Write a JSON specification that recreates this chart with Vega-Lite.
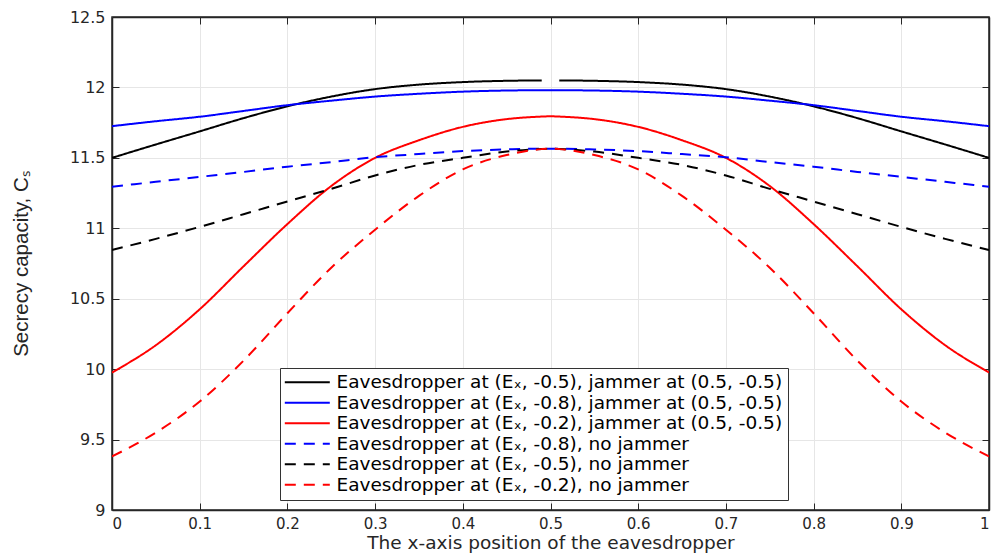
{
  "$schema": "https://vega.github.io/schema/vega-lite/v6.json",
  "autosize": "none",
  "width": 877,
  "height": 493,
  "padding": {"left": 112, "top": 17, "right": 2, "bottom": 45},
  "background": "white",
  "data": {
    "values": [
      {"x": 0.00, "s1": 11.500, "s2": 11.725, "s3": 9.976, "s4": 11.295, "s5": 10.846, "s6": 9.380},
      {"x": 0.05, "s1": 11.595, "s2": 11.760, "s3": 10.170, "s4": 11.330, "s5": 10.925, "s6": 9.550},
      {"x": 0.10, "s1": 11.688, "s2": 11.792, "s3": 10.425, "s4": 11.365, "s5": 11.010, "s6": 9.770},
      {"x": 0.15, "s1": 11.782, "s2": 11.833, "s3": 10.730, "s4": 11.400, "s5": 11.100, "s6": 10.060},
      {"x": 0.20, "s1": 11.866, "s2": 11.874, "s3": 11.030, "s4": 11.437, "s5": 11.190, "s6": 10.397},
      {"x": 0.25, "s1": 11.935, "s2": 11.906, "s3": 11.300, "s4": 11.470, "s5": 11.280, "s6": 10.720},
      {"x": 0.30, "s1": 11.988, "s2": 11.935, "s3": 11.500, "s4": 11.505, "s5": 11.375, "s6": 10.990},
      {"x": 0.35, "s1": 12.020, "s2": 11.955, "s3": 11.625, "s4": 11.527, "s5": 11.450, "s6": 11.230},
      {"x": 0.40, "s1": 12.038, "s2": 11.970, "s3": 11.720, "s4": 11.548, "s5": 11.500, "s6": 11.418},
      {"x": 0.45, "s1": 12.047, "s2": 11.978, "s3": 11.775, "s4": 11.560, "s5": 11.545, "s6": 11.520},
      {"x": 0.49, "s1": 12.050, "s2": 11.980, "s3": 11.793, "s4": 11.565, "s5": 11.563, "s6": 11.562},
      {"x": 0.50, "s1": null,   "s2": 11.980, "s3": 11.795, "s4": 11.565, "s5": 11.565, "s6": 11.565},
      {"x": 0.51, "s1": 12.050, "s2": 11.980, "s3": 11.793, "s4": 11.565, "s5": 11.563, "s6": 11.562},
      {"x": 0.55, "s1": 12.047, "s2": 11.978, "s3": 11.775, "s4": 11.560, "s5": 11.545, "s6": 11.520},
      {"x": 0.60, "s1": 12.038, "s2": 11.970, "s3": 11.720, "s4": 11.548, "s5": 11.500, "s6": 11.418},
      {"x": 0.65, "s1": 12.020, "s2": 11.955, "s3": 11.625, "s4": 11.527, "s5": 11.450, "s6": 11.230},
      {"x": 0.70, "s1": 11.988, "s2": 11.935, "s3": 11.500, "s4": 11.505, "s5": 11.375, "s6": 10.990},
      {"x": 0.75, "s1": 11.935, "s2": 11.906, "s3": 11.300, "s4": 11.470, "s5": 11.280, "s6": 10.720},
      {"x": 0.80, "s1": 11.866, "s2": 11.874, "s3": 11.030, "s4": 11.437, "s5": 11.190, "s6": 10.397},
      {"x": 0.85, "s1": 11.782, "s2": 11.833, "s3": 10.730, "s4": 11.400, "s5": 11.100, "s6": 10.060},
      {"x": 0.90, "s1": 11.688, "s2": 11.792, "s3": 10.425, "s4": 11.365, "s5": 11.010, "s6": 9.770},
      {"x": 0.95, "s1": 11.595, "s2": 11.760, "s3": 10.170, "s4": 11.330, "s5": 10.925, "s6": 9.550},
      {"x": 1.00, "s1": 11.500, "s2": 11.725, "s3": 9.976, "s4": 11.295, "s5": 10.846, "s6": 9.380}
    ]
  },
  "transform": [
    {"fold": ["s1", "s2", "s3", "s4", "s5", "s6"], "as": ["series", "cap"]}
  ],
  "layer": [
    {
      "mark": {
        "type": "line",
        "strokeWidth": 2,
        "interpolate": "monotone",
        "invalid": "break-paths-show-domains",
        "clip": true
      },
      "encoding": {
        "x": {
          "field": "x",
          "type": "quantitative",
          "scale": {"domain": [0, 1], "nice": false, "zero": false},
          "axis": {
            "orient": "bottom",
            "title": "The x-axis position of the eavesdropper",
            "values": [0, 0.1, 0.2, 0.3, 0.4, 0.5, 0.6, 0.7, 0.8, 0.9, 1],
            "format": ".1~f",
            "labelFontSize": 15,
            "labelPadding": 13,
            "titleFontSize": 18.5,
            "titlePadding": 2
          }
        },
        "y": {
          "field": "cap",
          "type": "quantitative",
          "scale": {"domain": [9, 12.5], "nice": false, "zero": false},
          "axis": {
            "orient": "left",
            "title": "Secrecy capacity, Cₛ",
            "values": [9, 9.5, 10, 10.5, 11, 11.5, 12, 12.5],
            "format": ".1~f",
            "labelPadding": 14,
            "titleFont": "Liberation Sans",
            "titleFontSize": 20.5,
            "titlePadding": 38
          }
        },
        "color": {
          "field": "series",
          "type": "nominal",
          "scale": {
            "domain": ["s1", "s2", "s3", "s4", "s5", "s6"],
            "range": ["#000000", "#0000ff", "#ff0000", "#0000ff", "#000000", "#ff0000"]
          },
          "legend": {
            "title": null,
            "orient": "none",
            "legendX": 168,
            "legendY": 351,
            "symbolType": "M-2.1,0H7.9",
            "symbolSize": 81,
            "symbolStrokeWidth": 2,
            "labelOffset": 33,
            "labelExpr": "{'s1': 'Eavesdropper at (Eₓ, -0.5), jammer at (0.5, -0.5)', 's2': 'Eavesdropper at (Eₓ, -0.8), jammer at (0.5, -0.5)', 's3': 'Eavesdropper at (Eₓ, -0.2), jammer at (0.5, -0.5)', 's4': 'Eavesdropper at (Eₓ, -0.8), no jammer', 's5': 'Eavesdropper at (Eₓ, -0.5), no jammer', 's6': 'Eavesdropper at (Eₓ, -0.2), no jammer'}[datum.label]"
          }
        },
        "strokeDash": {
          "field": "series",
          "type": "nominal",
          "scale": {
            "domain": ["s1", "s2", "s3", "s4", "s5", "s6"],
            "range": [[1, 0], [1, 0], [1, 0], [11, 8], [11, 8], [11, 8]]
          },
          "legend": null
        }
      }
    },
    {
      "mark": {"type": "point", "opacity": 0},
      "encoding": {
        "x": {
          "field": "x",
          "type": "quantitative",
          "axis": {
            "orient": "top",
            "title": null,
            "values": [0, 0.1, 0.2, 0.3, 0.4, 0.5, 0.6, 0.7, 0.8, 0.9, 1],
            "labels": false,
            "grid": false
          }
        },
        "y": {
          "field": "cap",
          "type": "quantitative",
          "axis": {
            "orient": "right",
            "title": null,
            "values": [9, 9.5, 10, 10.5, 11, 11.5, 12, 12.5],
            "labels": false,
            "grid": false
          }
        }
      }
    }
  ],
  "resolve": {"axis": {"x": "independent", "y": "independent"}},
  "config": {
    "font": "DejaVu Sans",
    "view": {"stroke": "#262626", "strokeWidth": 1.5},
    "axis": {
      "domainColor": "#262626",
      "domainWidth": 1.5,
      "tickColor": "#262626",
      "tickSize": -7,
      "labelColor": "#262626",
      "labelFont": "DejaVu Sans",
      "labelFontSize": 16,
      "titleColor": "#262626",
      "titleFont": "DejaVu Sans",
      "titleFontSize": 17,
      "titleFontWeight": "normal",
      "gridColor": "#e6e6e6",
      "gridWidth": 1
    },
    "legend": {
      "strokeColor": "#333333",
      "fillColor": "white",
      "padding": 5,
      "labelFont": "DejaVu Sans",
      "labelFontSize": 18.5,
      "labelColor": "#000000",
      "labelLimit": 700,
      "rowPadding": 1.5
    }
  }
}
